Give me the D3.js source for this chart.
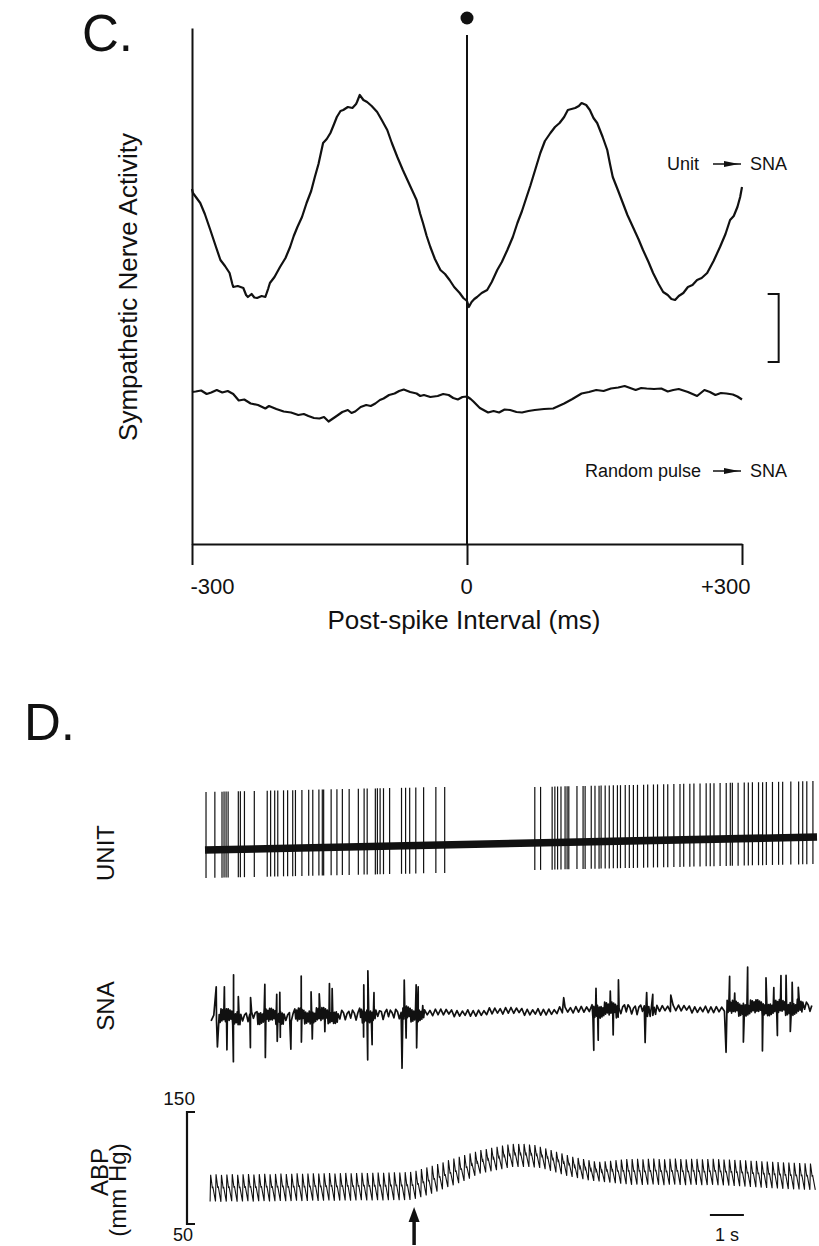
<!DOCTYPE html>
<html>
<head>
<meta charset="utf-8">
<script src="https://cdn.jsdelivr.net/npm/d3@7"></script>
<style>
  body { margin: 0; background: #fff; }
  svg { display: block; }
  text { font-family: "Liberation Sans", Arial, Helvetica, sans-serif; fill: #111; }
</style>
</head>
<body>
<script>
// ---------- panel C data (post-spike interval, ms / arbitrary activity units) ----------
const cTicks = [-300, 0, 300];
const cTickLabels = ["-300", "0", "+300"];
const cScaleBar = [36.4, 50];

const unitToSna = [
  [-300, 71.0], [-299, 70.2], [-291, 68.2], [-286, 66.0], [-280, 62.8], [-274, 59.5], [-269, 56.8],
  [-264, 55.6], [-259, 54.2], [-256, 52.0], [-255, 51.4], [-250, 51.6], [-244, 51.2], [-241, 49.8],
  [-239, 49.4], [-235, 50.0], [-232, 49.3], [-229, 49.2], [-224, 49.6], [-220, 49.4], [-217, 51.0],
  [-215, 52.2], [-210, 53.4], [-204, 55.4], [-198, 57.2], [-193, 59.4], [-189, 61.6], [-185, 63.4],
  [-180, 65.4], [-175, 68.2], [-170, 70.6], [-166, 73.4], [-162, 76.0], [-157, 80.2], [-153, 81.0],
  [-149, 82.2], [-145, 84.0], [-142, 85.4], [-138, 86.6], [-135, 86.8], [-130, 87.4], [-125, 87.2],
  [-121, 88.0], [-120, 88.4], [-117, 89.8], [-113, 88.8], [-109, 88.4], [-104, 87.6], [-98, 86.4],
  [-93, 84.8], [-87, 82.8], [-82, 80.2], [-76, 77.4], [-70, 74.8], [-65, 72.8], [-60, 70.8],
  [-55, 68.8], [-51, 66.0], [-48, 64.2], [-44, 61.6], [-40, 59.4], [-35, 57.0], [-29, 54.8],
  [-24, 54.0], [-19, 52.8], [-14, 51.4], [-8, 50.2], [-4, 49.2], [0, 48.6], [2, 47.4], [5, 48.4],
  [8, 49.0], [11, 49.4], [16, 50.2], [22, 50.8], [27, 52.4], [33, 54.8], [38, 56.4], [44, 58.8],
  [50, 61.4], [55, 64.2], [60, 66.6], [65, 69.4], [69, 71.6], [72, 73.4], [76, 75.8], [80, 78.2],
  [85, 80.6], [91, 82.2], [96, 83.4], [101, 84.2], [106, 85.4], [110, 86.8], [114, 87.0], [118, 87.2],
  [122, 87.6], [125, 88.2], [130, 87.8], [134, 86.8], [138, 85.2], [142, 84.2], [148, 81.4],
  [153, 78.8], [156, 76.0], [159, 73.4], [165, 70.6], [170, 68.2], [175, 65.8], [181, 63.4],
  [187, 61.0], [192, 58.8], [198, 56.4], [203, 54.2], [209, 52.0], [214, 50.4], [219, 49.8],
  [223, 49.0], [227, 48.8], [231, 49.6], [236, 50.2], [241, 51.4], [246, 51.8], [251, 52.8],
  [256, 53.2], [262, 54.2], [269, 56.6], [276, 59.4], [282, 62.0], [287, 64.8], [291, 65.6],
  [295, 67.4], [298, 69.4], [300, 71.4]
];

const randomToSna = [
  [-300, 30.4], [-296, 30.5], [-290, 30.7], [-284, 30.0], [-279, 30.3], [-273, 30.8], [-267, 30.3],
  [-261, 30.6], [-255, 30.0], [-249, 28.7], [-243, 28.9], [-236, 28.1], [-228, 27.8], [-220, 27.1],
  [-216, 27.6], [-208, 27.0], [-200, 26.5], [-192, 26.3], [-184, 25.8], [-178, 26.0], [-173, 25.6],
  [-167, 25.2], [-161, 25.1], [-156, 25.4], [-151, 24.5], [-147, 25.0], [-143, 25.5], [-136, 26.4],
  [-130, 26.8], [-126, 26.2], [-122, 26.5], [-116, 27.4], [-110, 27.8], [-105, 27.6], [-100, 28.1],
  [-95, 28.8], [-91, 29.1], [-85, 29.8], [-79, 30.1], [-74, 30.6], [-69, 30.9], [-62, 30.4],
  [-55, 30.1], [-51, 29.6], [-47, 29.8], [-40, 29.4], [-32, 29.6], [-26, 30.0], [-20, 29.8],
  [-15, 29.2], [-10, 28.9], [-5, 29.4], [0, 29.5], [4, 29.0], [7, 28.5], [14, 27.2], [23, 26.3],
  [29, 26.6], [35, 26.3], [41, 26.9], [47, 26.8], [54, 26.4], [60, 26.3], [67, 26.6], [74, 26.8],
  [84, 27.0], [94, 27.1], [100, 27.6], [106, 28.1], [115, 29.0], [125, 30.1], [133, 30.4],
  [141, 30.8], [149, 30.6], [157, 31.1], [165, 31.3], [172, 31.6], [178, 31.2], [184, 30.8],
  [190, 31.2], [196, 31.1], [204, 31.0], [212, 31.1], [219, 30.5], [225, 30.8], [231, 31.0],
  [241, 30.4], [251, 29.6], [259, 30.8], [265, 30.4], [271, 29.8], [277, 30.2], [283, 30.1],
  [290, 29.9], [295, 29.5], [300, 28.9]
];

// ---------- panel D data (time, s) ----------
const unitBaseline = [[0, -0.40], [18, -0.14]];
const unitSpikeAmp = { early: [1.16, 0.56], late: [1.12, 0.54] };
const unitSpikesEarly = [
  0.03, 0.29, 0.50, 0.56, 0.62, 0.68, 0.98, 1.04, 1.16, 1.45, 1.83, 1.93, 2.05, 2.14, 2.31, 2.43,
  2.58, 2.66, 2.85, 3.05, 3.17, 3.35, 3.45, 3.49, 3.71, 3.88, 4.04, 4.24, 4.51, 4.68, 4.77, 5.01,
  5.07, 5.15, 5.25, 5.43, 5.78, 5.90, 6.02, 6.20, 6.43, 6.79, 7.05
];
const unitSpikesLate = [
  9.70, 9.87, 10.21, 10.29, 10.37, 10.47, 10.59, 10.65, 10.70, 10.94, 11.12, 11.18, 11.36, 11.47,
  11.59, 11.65, 11.77, 11.89, 12.01, 12.13, 12.22, 12.36, 12.48, 12.60, 12.72, 12.90, 13.02, 13.19,
  13.31, 13.49, 13.61, 13.79, 13.97, 14.08, 14.26, 14.38, 14.56, 14.74, 14.86, 14.97, 15.15, 15.33,
  15.45, 15.51, 15.68, 15.86, 15.98, 16.10, 16.28, 16.40, 16.51, 16.69, 16.87, 16.99, 17.23, 17.46,
  17.58, 17.70, 17.88
];

const snaBaseline = [[0.1, -2], [3, -1], [6, 1], [8, 3], [10, 4], [12, 5], [14, 6], [16, 7], [18, 8]];
// [start, end, ripple amplitude, ripple points per beat]
const snaActivity = [
  [0, 0.3, 4, 2], [0.3, 1.0, 8, 6], [1.0, 1.5, 5, 3], [1.5, 2.3, 8, 6], [2.3, 2.5, 5, 3],
  [2.5, 3.8, 8, 6], [3.8, 4.5, 5, 3], [4.5, 5.0, 8, 6], [5.0, 5.7, 5, 3], [5.7, 6.3, 8, 6],
  [6.3, 11.3, 4, 2], [11.3, 12.1, 8, 6], [12.1, 12.9, 5, 3], [12.9, 13.2, 7, 4], [13.2, 15.2, 4, 2],
  [15.2, 17.5, 8, 6], [17.5, 18, 5, 3]
];
const snaRippleShape = [1, 0.45, 0.85, 0.3, 0.7, 1, 0.5, 0.9, 0.35, 0.75, 0.6, 1, 0.4];
const snaUp = [
  [0.33, 30], [0.57, 30], [0.84, 42], [0.98, 20], [1.34, 19], [1.76, 32], [2.11, 22], [2.20, 24],
  [2.83, 40], [3.12, 24], [3.36, 22], [3.66, 32], [3.74, 27], [4.67, 30], [4.79, 44], [4.97, 22],
  [5.86, 34], [6.21, 29], [6.27, 27], [10.55, 13], [11.50, 22], [11.92, 19], [12.16, 30],
  [12.99, 17], [13.17, 15], [13.70, 14], [15.43, 32], [15.58, 15], [15.96, 41], [16.50, 30],
  [16.73, 20], [16.94, 32], [17.09, 32], [17.27, 25], [17.45, 20]
];
const snaDown = [
  [0.36, 30], [0.64, 33], [0.83, 45], [1.33, 31], [1.77, 41], [2.12, 25], [2.21, 21], [2.52, 33],
  [2.83, 26], [3.15, 23], [3.52, 16], [4.66, 22], [4.78, 45], [4.91, 30], [5.79, 54], [5.91, 24],
  [6.22, 34], [11.43, 40], [11.56, 30], [12.00, 25], [12.94, 33], [15.32, 44], [15.83, 34],
  [16.39, 43], [16.83, 28], [17.21, 24]
];

// arterial pressure, one systolic / diastolic value per beat (mm Hg)
const abpSpan = [0.15, 17.95];
const abpSys = [
  94, 94.3, 93.8, 94.2, 94.5, 94, 94.4, 94.6, 94.2, 94.5,
  94.8, 94.4, 94.7, 95, 94.6, 94.9, 95.2, 94.8, 95, 95.3,
  95, 95.2, 95.5, 95.1, 95.4, 95.6, 95.3, 95.5, 95.8, 95.5,
  95.7, 96, 95.7, 96, 96.2, 96, 96.3, 96.5,
  97.5, 99, 100.5, 102, 103.5, 105, 107,
  108.5, 110, 111.5, 113, 114.5, 116,
  117, 118, 119, 120, 121, 121.5,
  121.5, 121.5, 121, 120.5,
  119, 117.5, 116, 114.5, 113, 111.5, 110,
  109, 108, 107, 106, 105.5,
  106, 106.5, 107, 107.5, 108, 108,
  108.3, 107.8, 108.2, 108.5, 108, 107.7, 108.2, 108.4, 108, 107.8, 108.3, 108.1, 107.7, 108, 108.3, 107.9, 107.6,
  107.5, 107.2, 107, 106.8, 106.5, 106.3, 106, 105.8, 105.5, 105.3, 105, 104.8, 104.6, 104.4, 104.2, 104
];
const abpDia = [
  70, 70.2, 69.8, 70, 70.3, 69.9, 70.2, 70.4, 70, 70.3,
  70.5, 70.2, 70.4, 70.6, 70.3, 70.5, 70.8, 70.5, 70.6, 70.9,
  70.6, 70.8, 71, 70.7, 70.9, 71.1, 70.8, 71, 71.2, 71,
  71.1, 71.3, 71.1, 71.3, 71.4, 71.2, 71.4, 71.5,
  72.5, 74, 75.5, 77, 79, 81, 83,
  84.5, 86.5, 88.5, 90.5, 93, 95,
  96, 97, 98, 99, 100, 101,
  101, 101, 101, 100.5,
  100, 99, 97.5, 96, 94.5, 93, 92,
  91, 90, 89, 88.5, 88,
  87.5, 87, 86.5, 86, 85.5, 85,
  85.2, 84.8, 85.1, 85.3, 85, 84.7, 85.1, 85.2, 84.9, 84.7, 85.1, 85, 84.6, 84.8, 85, 84.7, 84.5,
  84.3, 84, 83.7, 83.4, 83.1, 82.8, 82.5, 82.2, 81.9, 81.7, 81.4, 81.2, 81, 80.8, 80.6, 80.5
];
const abpTicks = [50, 150];
const stimulusTime = 6.15;
const timeBar = [14.85, 15.85];

// ---------- drawing ----------
const width = 819, height = 1246;
const ink = "#111";

const svg = d3.select("body").append("svg")
    .attr("width", width)
    .attr("height", height);

// panel C
const x = d3.scaleLinear().domain([-300, 300]).range([192, 742]);
const y = d3.scaleLinear().domain([0, 103.2]).range([544, 28]);

const gC = svg.append("g");

gC.append("text")
    .attr("x", 82).attr("y", 51)
    .style("font-size", "51px")
    .text("C.");

const xAxis = gC.append("g")
    .attr("transform", "translate(0," + y(0) + ")")
    .call(d3.axisBottom(x).tickValues(cTicks).tickSize(21).tickSizeOuter(0)
        .tickFormat((d, i) => cTickLabels[i]));
xAxis.select(".domain").attr("stroke", ink).attr("stroke-width", 2);
xAxis.selectAll(".tick line").attr("stroke", ink).attr("stroke-width", 2);
xAxis.selectAll(".tick text")
    .attr("y", 50)
    .attr("dy", 0)
    .attr("fill", ink)
    .style("font-size", "22px")
    .style("font-family", "'Liberation Sans', Arial, sans-serif")
    .attr("text-anchor", (d, i) => i === 0 ? "start" : (i === cTicks.length - 1 ? "end" : "middle"))
    .attr("dx", (d, i) => i === 0 ? -2 : (i === cTicks.length - 1 ? 8 : -1));

const yAxis = gC.append("g")
    .attr("transform", "translate(" + x(-300) + ",0)")
    .call(d3.axisLeft(y).tickValues([]).tickSizeOuter(0));
yAxis.select(".domain").attr("stroke", ink).attr("stroke-width", 2);

gC.append("line")
    .attr("x1", x(0)).attr("x2", x(0))
    .attr("y1", y(101.8)).attr("y2", y(0))
    .attr("stroke", ink).attr("stroke-width", 2);

gC.append("circle")
    .attr("cx", x(0)).attr("cy", y(105.2))
    .attr("r", 6.5)
    .attr("fill", ink);

const cLine = d3.line()
    .x(d => x(d[0]))
    .y(d => y(d[1]));

gC.append("path")
    .datum(unitToSna)
    .attr("d", cLine)
    .attr("fill", "none").attr("stroke", ink).attr("stroke-width", 2.2)
    .attr("stroke-linejoin", "round");

gC.append("path")
    .datum(randomToSna)
    .attr("d", cLine)
    .attr("fill", "none").attr("stroke", ink).attr("stroke-width", 2.2)
    .attr("stroke-linejoin", "round");

// scale bracket
gC.append("path")
    .attr("d", "M" + x(328) + "," + y(cScaleBar[1]) + "H" + x(340) + "V" + y(cScaleBar[0]) + "H" + x(328))
    .attr("fill", "none").attr("stroke", ink).attr("stroke-width", 2);

gC.append("text")
    .attr("transform", "translate(137," + 287 + ") rotate(-90)")
    .attr("text-anchor", "middle")
    .style("font-size", "26px")
    .text("Sympathetic Nerve Activity");

gC.append("text")
    .attr("x", 464).attr("y", 629)
    .attr("text-anchor", "middle")
    .style("font-size", "26px")
    .text("Post-spike Interval (ms)");

function arrowLabel(g, left, words, yBase) {
  g.append("text").attr("x", left).attr("y", yBase)
      .style("font-size", "18px").text(words[0]);
  g.append("line")
      .attr("x1", 713).attr("x2", 741)
      .attr("y1", yBase - 6).attr("y2", yBase - 6)
      .attr("stroke", ink).attr("stroke-width", 1.5);
  g.append("path")
      .attr("d", "M724," + (yBase - 9) + "L739," + (yBase - 6) + "L724," + (yBase - 3) + "Z")
      .attr("fill", ink);
  g.append("text").attr("x", 750).attr("y", yBase)
      .style("font-size", "18px").text(words[1]);
}
arrowLabel(gC, 667, ["Unit", "SNA"], 170);
arrowLabel(gC, 585, ["Random pulse", "SNA"], 477);

// panel D
const timeX = d3.scaleLinear().domain([0, 18]).range([205, 817]);
const gD = svg.append("g");

gD.append("text")
    .attr("x", 24).attr("y", 740)
    .style("font-size", "51px")
    .text("D.");

function sideLabel(text, xBase, yMid, size) {
  gD.append("text")
      .attr("transform", "translate(" + xBase + "," + yMid + ") rotate(-90)")
      .attr("text-anchor", "middle")
      .style("font-size", size + "px")
      .text(text);
}
sideLabel("UNIT", 114, 853, 24);
sideLabel("SNA", 114, 1006, 24);
sideLabel("ABP", 108, 1172, 24);
sideLabel("(mm Hg)", 126, 1190, 24);

// UNIT trace
const unitY = d3.scaleLinear().domain([-1, 1]).range([880, 780]);
const unitBase = d3.scaleLinear()
    .domain(unitBaseline.map(d => d[0]))
    .range(unitBaseline.map(d => d[1]));

gD.append("path")
    .datum(unitBaseline)
    .attr("d", d3.line().x(d => timeX(d[0])).y(d => unitY(d[1])))
    .attr("stroke", ink).attr("stroke-width", 7.5).attr("fill", "none");

const spikes = unitSpikesEarly.map(t => ({t: t, amp: unitSpikeAmp.early}))
    .concat(unitSpikesLate.map(t => ({t: t, amp: unitSpikeAmp.late})));

gD.append("g").selectAll("line")
    .data(spikes)
    .join("line")
    .attr("x1", d => timeX(d.t)).attr("x2", d => timeX(d.t))
    .attr("y1", d => unitY(unitBase(d.t) + d.amp[0]))
    .attr("y2", d => unitY(unitBase(d.t) - d.amp[1]))
    .attr("stroke", ink).attr("stroke-width", 1.2);

// ABP beats: fast upstroke, dicrotic notch, slow run-off
const abpY = d3.scaleLinear().domain([50, 150]).range([1224, 1112]);
const beatT = d3.scaleLinear().domain([0, abpSys.length]).range(abpSpan);
const beatLen = beatT(1) - beatT(0);

const abpPts = [];
abpSys.forEach((s, i) => {
  const t0 = beatT(i), d = abpDia[i], pp = s - d;
  abpPts.push([t0, d]);
  abpPts.push([t0 + beatLen * 0.1, s]);
  abpPts.push([t0 + beatLen * 0.42, d + pp * 0.5]);
  abpPts.push([t0 + beatLen * 0.5, d + pp * 0.56]);
});
abpPts.push([beatT(abpSys.length), abpDia[abpDia.length - 1]]);

gD.append("path")
    .datum(abpPts)
    .attr("d", d3.line().x(d => timeX(d[0])).y(d => abpY(d[1])))
    .attr("fill", "none").attr("stroke", ink).attr("stroke-width", 1.1)
    .attr("stroke-linejoin", "miter");

// SNA trace: ripple locked to the beats plus the larger deflections
const snaY = d3.scaleLinear().domain([-60, 60]).range([1075, 955]);
const snaBase = d3.scaleLinear()
    .domain(snaBaseline.map(d => d[0]))
    .range(snaBaseline.map(d => d[1]))
    .clamp(true);
const activityAt = t => snaActivity.find(s => t >= s[0] && t < s[1]) || [0, 0, 4, 2];
const snaPts = [];
let k = 0;
abpSys.forEach((s, i) => {
  const tb = beatT(i) - 0.05;
  const act = activityAt(tb);
  const n = act[3];
  for (let j = 0; j < n; j++) {
    const t = tb + beatLen * j / n;
    if (t < 0.1) continue;
    const sign = (j % 2 === 0) ? 1 : -1;
    const a = act[2] * snaRippleShape[k++ % snaRippleShape.length];
    snaPts.push([t, snaBase(t) + sign * a]);
  }
});
snaUp.forEach(d => snaPts.push([d[0], snaBase(d[0]) + d[1]]));
snaDown.forEach(d => snaPts.push([d[0] + 0.005, snaBase(d[0]) - d[1]]));
snaPts.sort((a, b) => a[0] - b[0]);

gD.append("path")
    .datum(snaPts)
    .attr("d", d3.line().x(d => timeX(d[0])).y(d => snaY(d[1])))
    .attr("fill", "none").attr("stroke", ink).attr("stroke-width", 1.7)
    .attr("stroke-linejoin", "round");

// pressure bracket with its two labels
gD.append("path")
    .attr("d", "M195," + abpY(abpTicks[1]) + "H187V" + abpY(abpTicks[0]) + "H195")
    .attr("fill", "none").attr("stroke", ink).attr("stroke-width", 2.2);

gD.append("text")
    .attr("x", 195).attr("y", abpY(abpTicks[1]) - 7)
    .attr("text-anchor", "end")
    .style("font-size", "19px")
    .text(abpTicks[1]);

gD.append("text")
    .attr("x", 193).attr("y", 1241)
    .attr("text-anchor", "end")
    .style("font-size", "18px")
    .text(abpTicks[0]);

// stimulus arrow
const ax = timeX(stimulusTime);
gD.append("line")
    .attr("x1", ax).attr("x2", ax)
    .attr("y1", 1218).attr("y2", 1245)
    .attr("stroke", ink).attr("stroke-width", 3.5);
gD.append("path")
    .attr("d", "M" + (ax - 5.5) + ",1222L" + ax + ",1207L" + (ax + 5.5) + ",1222Z")
    .attr("fill", ink);

// 1 s time bar
gD.append("line")
    .attr("x1", timeX(timeBar[0])).attr("x2", timeX(timeBar[1]))
    .attr("y1", 1215).attr("y2", 1215)
    .attr("stroke", ink).attr("stroke-width", 1.8);
gD.append("text")
    .attr("x", (timeX(timeBar[0]) + timeX(timeBar[1])) / 2)
    .attr("y", 1241)
    .attr("text-anchor", "middle")
    .style("font-size", "18px")
    .text("1 s");
</script>
</body>
</html>
